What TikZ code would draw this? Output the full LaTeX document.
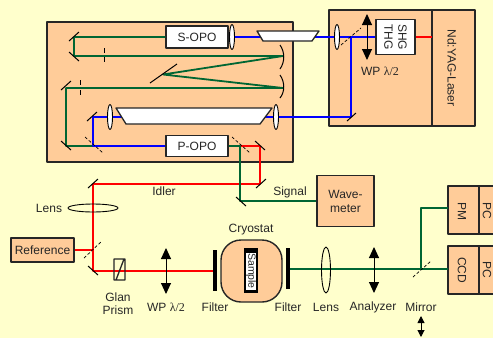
\documentclass[tikz,border=0pt]{standalone}
\usepackage{fontspec}
\setmainfont{Liberation Sans}
\newfontfamily\lamfont{Liberation Serif}
\usetikzlibrary{arrows.meta}
\definecolor{bgcream}{HTML}{FFFFCC}
\definecolor{peach}{HTML}{FFCC99}
\definecolor{beamgreen}{HTML}{006633}
\tikzset{
  box/.style={draw=black!85, line width=1.3pt, fill=peach, inner sep=0pt, text=black!85},
  whitebox/.style={box, fill=white},
  label/.style={inner sep=0pt, text=black!85, align=center},
  redbeam/.style={draw=red, line width=1.8pt},
  bluebeam/.style={draw=blue, line width=1.8pt},
  greenbeam/.style={draw=beamgreen, line width=1.8pt},
  mirror/.style={draw=black, line width=1pt},
  halfmirror/.style={draw=black, line width=0.7pt, densely dashed},
  lens/.style={draw=black, line width=0.9pt, fill=white},
  waveplate/.style={{Triangle[length=11pt,width=10pt]}-{Triangle[length=11pt,width=10pt]}, line width=1pt}
}
\newcommand{\wpl}{WP {\lamfont λ/2}}
\begin{document}
\begin{tikzpicture}[x=1pt, y=-1pt, font=\fontsize{12}{14}\selectfont, line join=round]
  \useasboundingbox (0,0) rectangle (493,338);
  \fill[bgcream] (0,0) rectangle (493,338);
  % housings
  \draw[box] (47,22) rectangle (293,162);
  \draw[box] (329,10) rectangle (475,126);
  \draw[box] (432,10) -- (432,126);
  \node[whitebox, minimum width=62pt, minimum height=22pt] (sopo) at (197,37) {S-OPO};
  \node[whitebox, minimum width=62pt, minimum height=21pt] (popo) at (197,146) {P-OPO};
  \node[whitebox, minimum width=39pt, minimum height=35pt] (shg) at (395.5,37) {};
  \node[label, rotate=-90] (shgtext) at (395.5,37) {\baselineskip=13pt SHG\\THG};
  \node[label, rotate=-90] (laser) at (452,68) {Nd:YAG-Laser};
  \node[box, minimum width=63pt, minimum height=24pt] (reference) at (42.5,250) {Reference};
  \node[box, minimum width=57pt, minimum height=51pt, align=center] (wavemeter) at (345.5,201) {Wave-\\meter};
  \draw[box] (448,186) rectangle (500,234);
  \draw[box] (448,246) rectangle (500,294);
  \draw[box] (479,186) -- (479,234);
  \draw[box] (479,246) -- (479,294);
  \coordinate (pmin) at (448,208.3);
  \coordinate (ccdin) at (448,269);
  \node[label, rotate=-90] (pm) at (462,211) {PM};
  \node[label, rotate=-90] (pc1) at (487,211) {PC};
  \node[label, rotate=-90] (ccd) at (462,270) {CCD};
  \node[label, rotate=-90] (pc2) at (487,270) {PC};
  % beam corners
  \coordinate (s1) at (74,37);
  \coordinate (s2) at (74,56);
  \coordinate (c1) at (283,56);
  \coordinate (f1) at (163,74.5);
  \coordinate (c2) at (283,88);
  \coordinate (g1) at (66,88);
  \coordinate (g2) at (66,146);
  \coordinate (h1) at (93,146);
  \coordinate (b1) at (93,117);
  \coordinate (b2) at (351,117);
  \coordinate (b3) at (351,37);
  \coordinate (h2) at (240,146);
  \coordinate (r1) at (260,146);
  \coordinate (g3) at (240,201);
  \coordinate (r2) at (260,184);
  \coordinate (r3) at (93,184);
  \coordinate (r4) at (93,250);
  \coordinate (r5) at (93,271);
  \coordinate (filterin) at (213,271);
  \coordinate (filterout) at (290,269);
  \coordinate (split) at (421.3,269);
  \coordinate (split2) at (421.3,208.3);
  % beams
  \draw[greenbeam] (sopo.west) -- (s1) -- (s2) -- (c1) -- (f1) -- (c2) -- (g1) -- (g2) -- (h1);
  \draw[bluebeam] (popo.west) -- (h1) -- (b1) -- (b2) -- (b3);
  \draw[bluebeam] (sopo.east) -- (shg.west);
  \draw[redbeam] (shg.east) -- (432,37);
  \draw[redbeam] (h2) -- (r1) -- (r2) -- (r3) -- (r5) -- (filterin);
  \draw[redbeam] (reference.east) -- (r4);
  \draw[greenbeam] (popo.east) -- (h2) -- (g3) -- (wavemeter.west);
  \draw[greenbeam] (filterout) -- (ccdin);
  \draw[greenbeam] (split) -- (split2) -- (pmin);
  % mirrors
  \draw[mirror] (79,32) -- (69,41);
  \draw[mirror] (69,52) -- (79,61);
  \draw[mirror] (150,83) -- (177,64);
  \draw[mirror] (71,81) -- (61,90);
  \draw[mirror] (61,141) -- (71,150);
  \draw[mirror] (97,112) -- (87,121);
  \draw[mirror] (356,113) -- (347,121);
  \draw[mirror] (255,141) -- (265,150);
  \draw[mirror] (236,197) -- (246,206);
  \draw[mirror] (266,179) -- (256,188);
  \draw[mirror] (98,179) -- (88,188);
  \draw[mirror] (88,266) -- (98,275);
  \draw[mirror] (280,45) .. controls (285,52) and (285,62) .. (280,69);
  \draw[mirror] (280,75) .. controls (285,82) and (285,92) .. (280,98);
  \draw[halfmirror] (85,137) -- (103,153);
  \draw[halfmirror] (232,137) -- (250,153);
  \draw[halfmirror] (341,45) -- (361,28);
  \draw[halfmirror] (84,258) -- (102,241);
  \draw[halfmirror] (413,277) -- (431,261);
  % irises
  \draw[mirror] (104,48) -- (104,53) (104,57) -- (104,62);
  \draw[mirror] (80,80) -- (80,85) (80,90) -- (80,95);
  % prisms and lenses
  \draw[box, fill=white] (257,31) -- (319,31) -- (312,41) -- (263,41) -- cycle;
  \draw[box, fill=white] (116,108) -- (272,108) -- (260,124) -- (126,124) -- cycle;
  \draw[lens] (232,37) ellipse (2.5 and 12.5);
  \draw[lens] (110,117) ellipse (2.5 and 12.5);
  \draw[lens] (276,117) ellipse (2.5 and 12.5);
  \draw[lens] (337,37) ellipse (2.5 and 12.5);
  \draw[lens, fill=none] (93,208) ellipse (25 and 4);
  \draw[lens, fill=none] (326,270) ellipse (4.5 and 23);
  % optics on the table
  \draw[line width=1.3pt, draw=black!85] (114,259) rectangle (125,280) (116,280) -- (124,259);
  \draw[waveplate] (367,14) -- (367,60);
  \draw[waveplate] (166,248) -- (166,294);
  \draw[waveplate] (374,247) -- (374,293);
  \draw[{Triangle[length=7pt,width=7pt]}-{Triangle[length=7pt,width=7pt]}, line width=1pt] (421,316) -- (421,337);
  \node[box, rounded corners=20pt, minimum width=61pt, minimum height=62pt, line width=1.4pt] (cryostat) at (251.5,271) {};
  \fill[black] (213,250) rectangle (217,291);
  \fill[black] (286,248) rectangle (290,289);
  \fill[black] (244,248) rectangle (258,293);
  \node[fill=white, inner sep=0pt, minimum width=10.5pt, minimum height=37pt] (sampleback) at (251,271) {};
  \node[label, rotate=-90, font=\fontsize{10.5}{12}\selectfont] (sample) at (251,271) {Sample};
  % labels
  \node[label] (wptop) at (380,71) {\wpl};
  \node[label] (lenstop) at (49,208) {Lens};
  \node[label] (idler) at (164,191.5) {Idler};
  \node[label] (signal) at (290,192.5) {Signal};
  \node[label] (cryolabel) at (251,230) {Cryostat};
  \node[label] (glan) at (118,297) {Glan};
  \node[label] (prism) at (118,310) {Prism};
  \node[label] (wpbottom) at (166,307) {\wpl};
  \node[label] (filterl) at (215,307) {Filter};
  \node[label] (filterr) at (288,307) {Filter};
  \node[label] (lensbottom) at (326,307) {Lens};
  \node[label] (analyzer) at (373,307) {Analyzer};
  \node[label] (mirrorlabel) at (421,307) {Mirror};
\end{tikzpicture}
\end{document}
